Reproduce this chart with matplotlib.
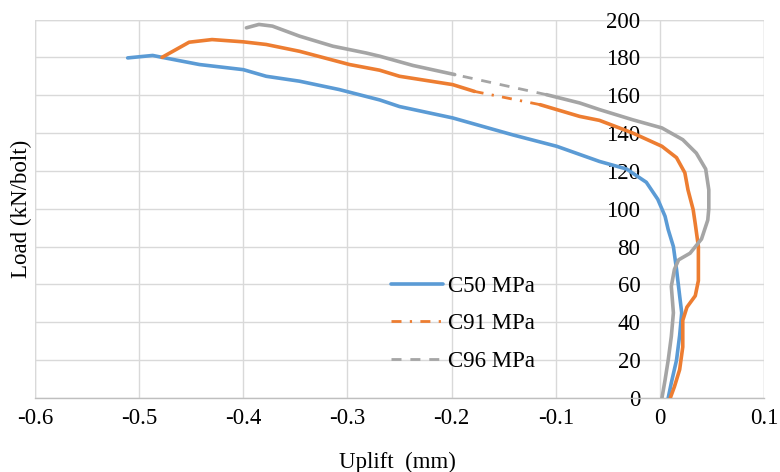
import matplotlib
matplotlib.use("Agg")
import matplotlib.pyplot as plt
import numpy as np

# ---- data ----
c50_x = [0.008, 0.011, 0.016, 0.019, 0.021, 0.019, 0.016, 0.013, 0.008, 0.005, -0.002, -0.013,
         -0.032, -0.058, -0.099, -0.141, -0.199, -0.25, -0.269, -0.308, -0.346, -0.378, -0.4,
         -0.442, -0.478, -0.487, -0.511]
c50_y = [0, 8, 20, 33, 45, 54, 68, 80, 89, 96, 105, 114, 121, 125, 133, 139, 148, 154, 157.5,
         163, 167.4, 170, 173.5, 176.2, 180, 181, 179.7]

c91_lower_x = [0.010, 0.014, 0.019, 0.022, 0.022, 0.026, 0.034, 0.037, 0.037, 0.034, 0.032,
               0.027, 0.024, 0.016, 0.002, -0.026, -0.058, -0.077, -0.115]
c91_lower_y = [0, 6, 15, 27, 41, 48, 54, 62, 80, 92, 99.5, 110, 119, 127, 133, 140, 146.7,
               148.8, 155]
c91_upper_x = [-0.178, -0.199, -0.25, -0.269, -0.298, -0.346, -0.378, -0.4, -0.43, -0.452,
               -0.465, -0.478]
c91_upper_y = [162, 165.6, 170, 173.2, 176.2, 183.2, 186.8, 188.2, 189.4, 188, 184, 180]

c96_lower_x = [0.002, 0.005, 0.008, 0.011, 0.013, 0.011, 0.014, 0.018, 0.029, 0.040, 0.046,
               0.047, 0.047, 0.044, 0.035, 0.022, 0.002, -0.026, -0.058, -0.077, -0.109]
c96_lower_y = [0, 9.5, 20, 32.5, 45, 59, 68, 73, 76.5, 84, 94, 100, 110, 121, 129.4, 136.5,
               142.7, 147, 152.4, 155.9, 160.3]
c96_upper_x = [-0.197, -0.237, -0.269, -0.282, -0.314, -0.346, -0.372, -0.385, -0.397]
c96_upper_y = [170.9, 175.7, 180.6, 182.3, 185.9, 191.2, 196.5, 197.4, 195.6]

labels = ["C50 MPa", "C91 MPa", "C96 MPa"]
x_ticks = [-0.6, -0.5, -0.4, -0.3, -0.2, -0.1, 0, 0.1]
x_tick_labels = ["-0.6", "-0.5", "-0.4", "-0.3", "-0.2", "-0.1", "0", "0.1"]
y_ticks = [0, 20, 40, 60, 80, 100, 120, 140, 160, 180, 200]

# ---- style ----
plt.rcParams['font.family'] = ['Liberation Serif', 'DejaVu Serif']
FS = 16.5
blue, orange, gray = '#5B9BD5', '#ED7D31', '#A5A5A5'
LW = 2.6

fig = plt.figure(figsize=(7.8, 4.72), dpi=100)
ax = fig.add_axes([35 / 780, 1 - 398 / 472, 729 / 780, 378.5 / 472])

# spine placement first (it resets tick properties)
for s in ['top', 'right']:
    ax.spines[s].set_visible(False)
ax.spines['left'].set_position(('data', 0))
ax.spines['left'].set_visible(False)
ax.spines['bottom'].set_color('#BFBFBF')
ax.spines['bottom'].set_linewidth(1.0)

ax.plot(c50_x, c50_y, color=blue, lw=LW, solid_capstyle='round', solid_joinstyle='round',
        label=labels[0], zorder=3)

ax.plot(c91_lower_x, c91_lower_y, color=orange, lw=LW, solid_capstyle='round',
        solid_joinstyle='round', zorder=3)
ax.plot(c91_upper_x, c91_upper_y, color=orange, lw=LW, solid_capstyle='round',
        solid_joinstyle='round', zorder=3)
ax.plot([c91_lower_x[-1], c91_upper_x[0]], [c91_lower_y[-1], c91_upper_y[0]], color=orange,
        lw=2.0, dashes=(3.6, 3.0, 0.8, 3.0), label=labels[1], zorder=3)

ax.plot(c96_lower_x, c96_lower_y, color=gray, lw=LW, solid_capstyle='round',
        solid_joinstyle='round', zorder=3)
ax.plot(c96_upper_x, c96_upper_y, color=gray, lw=LW, solid_capstyle='round',
        solid_joinstyle='round', zorder=3)
ax.plot([c96_lower_x[-1], c96_upper_x[0]], [c96_lower_y[-1], c96_upper_y[0]], color=gray,
        lw=2.0, dashes=(3.6, 3.2), label=labels[2], zorder=3)

ax.set_xlim(-0.6, 0.1)
ax.set_ylim(0, 200)
ax.set_xticks(x_ticks)
ax.set_xticklabels(x_tick_labels)
ax.set_yticks(y_ticks)
ax.set_yticklabels([str(v) for v in y_ticks])

ax.grid(True, color='#D9D9D9', lw=1.0, zorder=0)
ax.set_axisbelow(True)
ax.axvline(-0.6, color='#D9D9D9', lw=1.0, zorder=0)
ax.axvline(0.1, color='#D9D9D9', lw=1.0, zorder=0)
ax.axhline(200, color='#D9D9D9', lw=1.0, zorder=0)

ax.tick_params(axis='both', length=0, labelsize=FS)
ax.tick_params(axis='x', pad=7)
ax.tick_params(axis='y', pad=14)

ax.set_xlabel("Uplift  (mm)", fontsize=FS)
ax.xaxis.set_label_coords(0.497, -0.143)
ax.set_ylabel("Load (kN/bolt)", fontsize=FS)
ax.yaxis.set_label_coords(-0.004, 0.5)

leg = ax.legend(loc='upper left', bbox_to_anchor=(386 / 780, 1 - 271 / 472),
                bbox_transform=fig.transFigure, frameon=False, fontsize=FS,
                handlelength=2.3, handletextpad=0.2, labelspacing=0.72, borderpad=0.2,
                borderaxespad=0)

fig.savefig("out.png", dpi=100, facecolor='white')
